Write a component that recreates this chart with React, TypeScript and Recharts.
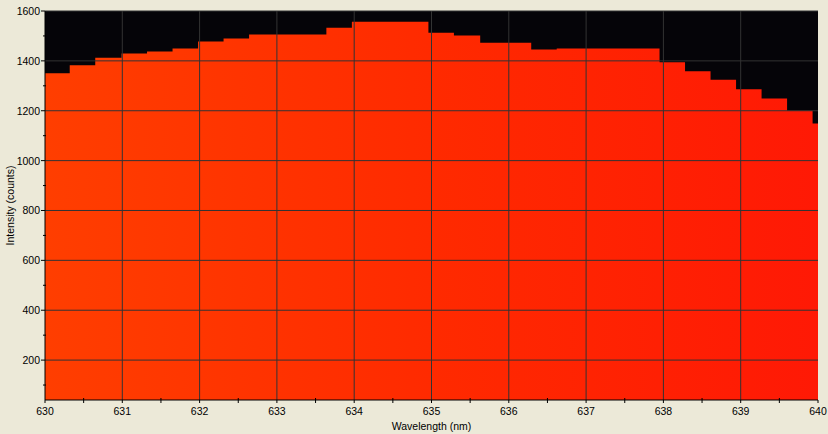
import React from 'react';
import { ComposedChart, Area, XAxis, YAxis, CartesianGrid, ReferenceLine, Label } from 'recharts';

const wavelengths = [630, 630.32, 630.65, 630.99, 631.32, 631.65, 631.98, 632.31, 632.64, 632.97, 633.31, 633.64, 633.97, 634.30, 634.63, 634.96, 635.29, 635.63, 635.96, 636.29, 636.62, 636.95, 637.28, 637.62, 637.95, 638.28, 638.61, 638.94, 639.27, 639.60, 639.93, 640];
const intensities = [1350, 1382, 1413, 1430, 1438, 1450, 1478, 1490, 1506, 1506, 1506, 1533, 1557, 1557, 1557, 1513, 1502, 1473, 1473, 1446, 1450, 1450, 1450, 1450, 1394, 1358, 1324, 1286, 1249, 1200, 1149, 1149];

const xTicks = [630, 630.5, 631, 631.5, 632, 632.5, 633, 633.5, 634, 634.5, 635, 635.5, 636, 636.5, 637, 637.5, 638, 638.5, 639, 639.5, 640];
const yTicks = [100, 200, 300, 400, 500, 600, 700, 800, 900, 1000, 1100, 1200, 1300, 1400, 1500, 1600];
const xGrid = [631, 632, 633, 634, 635, 636, 637, 638, 639];
const yGrid = [200, 400, 600, 800, 1000, 1200, 1400, 1600];

const data = wavelengths.map((wl, i) => ({ wl, v: intensities[i] }));

const FONT = '"Liberation Sans", Arial, sans-serif';

const XTick = (props: any) => {
  const { x, y, payload } = props;
  const major = Number.isInteger(payload.value);
  return (
    <g>
      <line x1={x} x2={x} y1={major ? y : y - 2} y2={y + 3} stroke="#000" />
      {major && (
        <text x={x} y={y + 15} textAnchor="middle" fontSize={10.5} fontFamily={FONT} fill="#000">
          {payload.value}
        </text>
      )}
    </g>
  );
};

const YTick = (props: any) => {
  const { x, y, payload } = props;
  const major = payload.value % 200 === 0;
  return (
    <g>
      <line x1={major ? x - 4 : x - 2} x2={major ? x : x + 1} y1={y} y2={y} stroke="#000" />
      {major && (
        <text x={x - 5} y={y + 4} textAnchor="end" fontSize={10.5} fontFamily={FONT} fill="#000">
          {payload.value}
        </text>
      )}
    </g>
  );
};

export default function App() {
  return (
    <div style={{ position: 'absolute', left: 0, top: 0, width: 828, height: 434, background: '#ECE9D8' }}>
      <ComposedChart width={828} height={434} data={data} margin={{ top: 11, right: 10, bottom: 0, left: 0 }}>
        <defs>
          <linearGradient id="fillGrad" x1="0" y1="0" x2="1" y2="0">
            <stop offset="0%" stopColor="#FF3E00" />
            <stop offset="50%" stopColor="#FF2A00" />
            <stop offset="100%" stopColor="#FF1905" />
          </linearGradient>
        </defs>
        <CartesianGrid fill="#050408" horizontal={false} vertical={false} stroke="none" />
        <XAxis
          type="number"
          dataKey="wl"
          domain={[630, 640]}
          ticks={xTicks}
          interval={0}
          height={34}
          tickSize={0}
          tickMargin={0}
          tick={<XTick />}
          axisLine={{ stroke: '#000' }}
          allowDataOverflow
        >
          <Label value="Wavelength (nm)" position="insideBottom" offset={4} style={{ fontFamily: FONT, fontSize: 10.5, fill: '#000' }} />
        </XAxis>
        <YAxis
          type="number"
          domain={[40, 1600]}
          ticks={yTicks}
          interval={0}
          width={45}
          tickSize={0}
          tickMargin={0}
          tick={<YTick />}
          axisLine={{ stroke: '#000' }}
          allowDataOverflow
        >
          <Label value="Intensity (counts)" angle={-90} position="insideLeft" offset={10} style={{ textAnchor: 'middle', fontFamily: FONT, fontSize: 10.5, fill: '#000' }} />
        </YAxis>
        <Area
          type="stepAfter"
          dataKey="v"
          stroke="none"
          fill="url(#fillGrad)"
          fillOpacity={1}
          isAnimationActive={false}
          dot={false}
          activeDot={false}
        />
        {xGrid.map((g) => (
          <ReferenceLine key={'x' + g} x={g} stroke="#333" strokeWidth={1} />
        ))}
        {yGrid.map((g) => (
          <ReferenceLine key={'y' + g} y={g} stroke="#333" strokeWidth={1} />
        ))}
      </ComposedChart>
    </div>
  );
}
